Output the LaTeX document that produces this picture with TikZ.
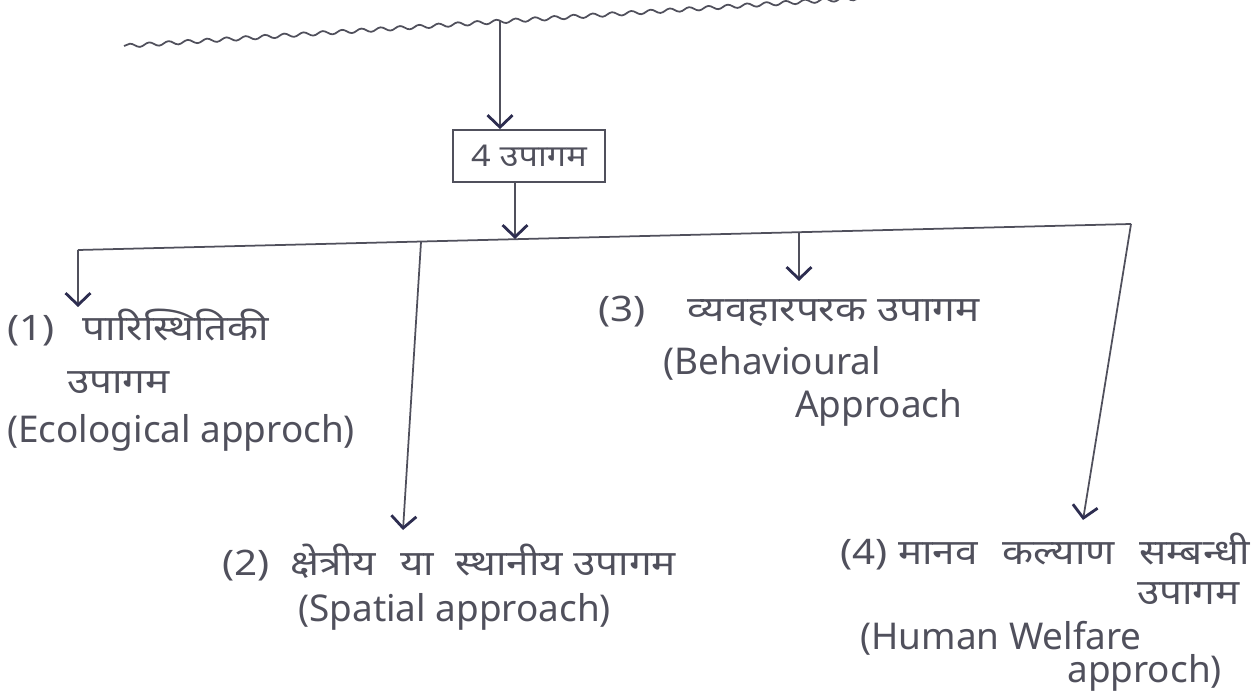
\documentclass[tikz,border=0pt]{standalone}
\usepackage{fontspec}
\setmainfont{Noto Sans}
\newfontfamily\hindi[Script=Devanagari,FakeStretch=1.15]{Noto Sans}
\usetikzlibrary{arrows.meta,decorations.pathmorphing}
\definecolor{inkgray}{RGB}{80,80,92}
\definecolor{tipink}{RGB}{45,45,80}
\begin{document}
\begin{tikzpicture}[
    x=0.02cm, y=-0.02cm,
    pen/.style={draw=inkgray, line width=1pt},
    arrowpen/.style={pen, -{Straight Barb[length=2.4mm,width=5mm,line width=1.6pt,color=tipink]}},
    hin/.style={font=\hindi\fontsize{20}{24}\selectfont, text=inkgray, inner sep=0pt, anchor=west},
    eng/.style={font=\fontsize{21}{25}\selectfont, text=inkgray, inner sep=0pt, anchor=west},
    wavy/.style={pen, decorate, decoration={snake, amplitude=1.1pt, segment length=11pt}},
    headbox/.style={pen, minimum width=3.04cm, minimum height=1.04cm, inner sep=2pt}
  ]
  \useasboundingbox (0,0) rectangle (1253,695);

  \coordinate (w1) at (124,46);
  \coordinate (w2) at (860,-2);
  \coordinate (w0) at (500,20);
  \draw[wavy] (w1) -- (w2);

  \node[headbox, font=\hindi\fontsize{17}{22}\selectfont, text=inkgray] (head) at (529,156) {4 उपागम};
  \draw[arrowpen] (w0) -- (head.north -| w0);

  \coordinate (b1) at (78,250);
  \coordinate (b2) at (421,242);
  \coordinate (bs) at (515,239);
  \coordinate (b3) at (799,232);
  \coordinate (b4) at (1131,224);
  \draw[pen] (b1) -- (b4);
  \draw[arrowpen] (head.south -| bs) -- (bs);

  \coordinate (e1) at (78,307);
  \coordinate (e2) at (403,530);
  \coordinate (e3) at (799,281);
  \coordinate (e4) at (1083,520);
  \draw[arrowpen] (b1) -- (e1);
  \draw[arrowpen] (b2) -- (e2);
  \draw[arrowpen] (b3) -- (e3);
  \draw[arrowpen] (b4) -- (e4);

  \node[hin] (t1a) at (7,328) {(1)\hspace{0.8em}पारिस्थितिकी};
  \node[hin] (t1b) at (67,383) {उपागम};
  \node[eng] (t1c) at (7,433) {(Ecological approch)};

  \node[hin] (t2a) at (222,563) {(2)\hspace{0.6em}क्षेत्रीय\hspace{0.4em} या\hspace{0.3em} स्थानीय उपागम};
  \node[eng] (t2b) at (298,612) {(Spatial approach)};

  \node[hin] (t3a) at (598,312) {(3)\hspace{1.2em}व्यवहारपरक उपागम};
  \node[eng] (t3b) at (663,363) {(Behavioural};
  \node[eng] (t3c) at (795,408) {Approach};

  \node[hin] (t4a) at (840,552) {(4) मानव\hspace{0.4em} कल्याण\hspace{0.4em} सम्बन्धी};
  \node[hin] (t4b) at (1137,594) {उपागम};
  \node[eng] (t4c) at (860,638) {(Human Welfare};
  \node[eng] (t4d) at (1067,673) {approch)};
\end{tikzpicture}
\end{document}
